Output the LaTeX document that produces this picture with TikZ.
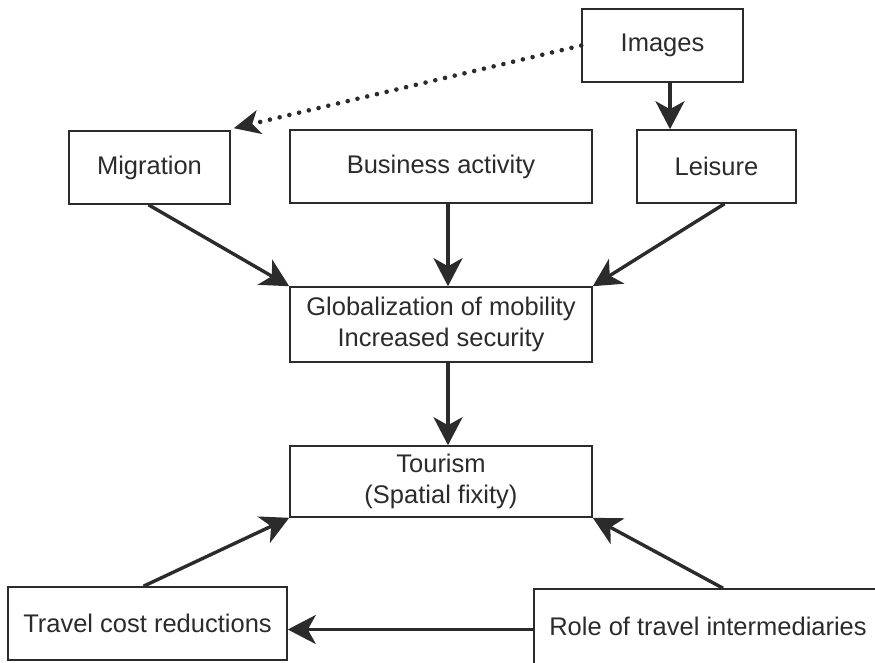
\documentclass[tikz,border=0pt]{standalone}
\usepackage{fontspec}
\setmainfont{Liberation Sans}
\usetikzlibrary{arrows.meta}
\definecolor{ink}{HTML}{2B2B2B}
\tikzset{
  box/.style={draw=ink, line width=1.6pt, rectangle, inner sep=0pt,
    text=ink, align=center, font=\fontsize{25.5}{31.5}\selectfont},
  arr/.style={draw=ink, line width=3.4pt,
    -{Stealth[length=28pt, width=29pt, inset=8pt]}},
  dotarr/.style={draw=ink, line width=4.6pt, line cap=round,
    dash pattern=on 0pt off 10pt,
    -{Stealth[length=26pt, width=24pt, inset=7pt]}}
}
\begin{document}
\begin{tikzpicture}[x=1pt, y=-1pt]
  \useasboundingbox (0,0) rectangle (875,662);
  \clip (0,0) rectangle (875,662);

  % boxes
  \node[box, minimum width=161pt, minimum height=73pt] (img)  at (662.5,45.5)  {Images};
  \node[box, minimum width=161pt, minimum height=73pt] (mig)  at (149.5,167.5) {Migration};
  \node[box, minimum width=302pt, minimum height=73pt] (bus)  at (441,166.5)   {Business activity};
  \node[box, minimum width=159pt, minimum height=73pt] (lei)  at (716.5,166.5) {Leisure};
  \node[box, minimum width=302pt, minimum height=75pt] (glob) at (441,324.5)   {Globalization of mobility\\Increased security};
  \node[box, minimum width=302pt, minimum height=71pt] (tour) at (441,481.5)   {Tourism\\(Spatial fixity)};
  \node[box, minimum width=279pt, minimum height=73pt] (trav) at (147.5,623.5) {Travel cost reductions};
  \node[box, minimum width=348pt, minimum height=75pt] (role) at (708,626.5)   {Role of travel intermediaries};

  % connectors
  \draw[dotarr] (img.west) -- ([shift={(3,-2)}]mig.north east);
  \draw[arr] ([xshift=7.5pt]img.south) -- ([xshift=7.5pt]img.south |- lei.north);
  \draw[arr] ([xshift=-1pt]mig.south) -- (glob.north west);
  \draw[arr] ([xshift=7pt]bus.south) -- ([xshift=7pt]glob.north);
  \draw[arr] ([xshift=8pt]lei.south) -- (glob.north east);
  \draw[arr] ([xshift=7pt]glob.south) -- ([xshift=7pt]tour.north);
  \draw[arr] ([xshift=-4pt]trav.north) -- (tour.south west);
  \draw[arr] ([xshift=15pt]role.north) -- (tour.south east);
  \draw[arr] ([yshift=-3pt]role.west) -- ([yshift=-3pt]role.west -| trav.east);
\end{tikzpicture}
\end{document}
